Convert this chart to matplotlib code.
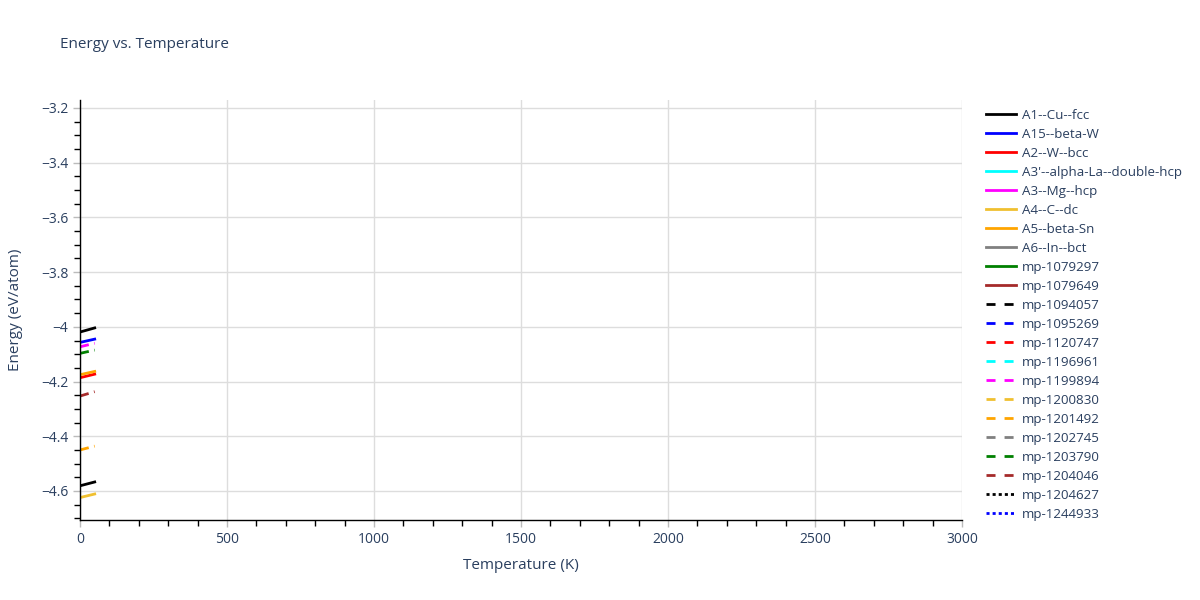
import matplotlib
matplotlib.use("Agg")
import matplotlib.pyplot as plt
from matplotlib.ticker import MultipleLocator, FuncFormatter
from matplotlib.lines import Line2D

series_names = [
    "A1--Cu--fcc", "A15--beta-W", "A2--W--bcc", "A3'--alpha-La--double-hcp",
    "A3--Mg--hcp", "A4--C--dc", "A5--beta-Sn", "A6--In--bct",
    "mp-1079297", "mp-1079649", "mp-1094057", "mp-1095269", "mp-1120747",
    "mp-1196961", "mp-1199894", "mp-1200830", "mp-1201492", "mp-1202745",
    "mp-1203790", "mp-1204046", "mp-1204627", "mp-1244933",
]
series_colors = [
    "black", "blue", "red", "cyan", "magenta", "#F0C030", "orange", "gray",
    "green", "brown", "black", "blue", "red", "cyan", "magenta", "#F0C030",
    "orange", "gray", "green", "brown", "black", "blue",
]
series_styles = ["solid"] * 10 + ["dashed"] * 10 + ["dotted"] * 2

# temperature (K) and energy (eV/atom) for the visible series
temps = [0, 50]
energy = {
    "A1--Cu--fcc": [-4.019, -4.004],
    "A15--beta-W": [-4.057, -4.045],
    "A2--W--bcc": [-4.186, -4.173],
    "A4--C--dc": [-4.624, -4.611],
    "A5--beta-Sn": [-4.175, -4.163],
    "mp-1094057": [-4.581, -4.567],
    "mp-1199894": [-4.073, -4.060],
    "mp-1201492": [-4.450, -4.436],
    "mp-1203790": [-4.097, -4.085],
    "mp-1204046": [-4.253, -4.237],
}

plt.rcParams['font.family'] = ['Open Sans', 'DejaVu Sans']
plt.rcParams['lines.scale_dashes'] = False
txt = "#2a3f5f"

fig = plt.figure(figsize=(12, 6), dpi=100)
ax = fig.add_axes([80/1200, 80/600, 882/1200, 420/600])

dash_map = {"solid": "-", "dashed": (0, (6.5, 6.5)), "dotted": (0, (2.2, 2.2))}
data_dash = (0, (6.5, 4.0))
handles = []
for name, col, st in zip(series_names, series_colors, series_styles):
    ls = dash_map[st]
    if name in energy:
        if name == "mp-1094057":
            ax.plot(temps, energy[name], color=col, lw=2, ls="-")
        elif st == "dashed":
            ax.plot(temps, energy[name], color=col, lw=2, ls=data_dash)
        else:
            ax.plot(temps, energy[name], color=col, lw=2, ls=ls)
    handles.append(Line2D([], [], color=col, lw=2, ls=ls, label=name))

ax.set_xlim(0, 3000)
ax.set_ylim(-4.706, -3.171)
ax.xaxis.set_major_locator(MultipleLocator(500))
ax.xaxis.set_minor_locator(MultipleLocator(100))
ax.yaxis.set_major_locator(MultipleLocator(0.2))
ax.yaxis.set_minor_locator(MultipleLocator(0.05))

def yfmt(v, p):
    s = f"{v:.1f}"
    if s.endswith(".0"):
        s = s[:-2]
    return s.replace("-", "\u2212")
ax.yaxis.set_major_formatter(FuncFormatter(yfmt))

ax.grid(True, which="major", color="#dddddd", lw=1)
ax.set_axisbelow(True)
for s in ["top", "right"]:
    ax.spines[s].set_visible(False)
for s in ["left", "bottom"]:
    ax.spines[s].set_color("black")
    ax.spines[s].set_linewidth(1)
ax.tick_params(which="major", length=5, color="#bbbbbb", labelsize=10, labelcolor=txt, width=1)
ax.tick_params(which="minor", length=4, color="black", width=1)

ax.set_xlabel("Temperature (K)", fontsize=11, color=txt, labelpad=8)
ax.set_ylabel("Energy (eV/atom)", fontsize=11, color=txt, labelpad=13)
fig.text(60/1200, 1 - 45/600, "Energy vs. Temperature", fontsize=11, color=txt, va="center")

fig.legend(handles=handles, loc="upper left", bbox_to_anchor=(979/1200, 1 - 102/600),
           frameon=False, fontsize=9.6, labelcolor=txt, handlelength=2.3,
           labelspacing=0.45, handletextpad=0.45, borderpad=0)

fig.savefig("out.png", dpi=100)
